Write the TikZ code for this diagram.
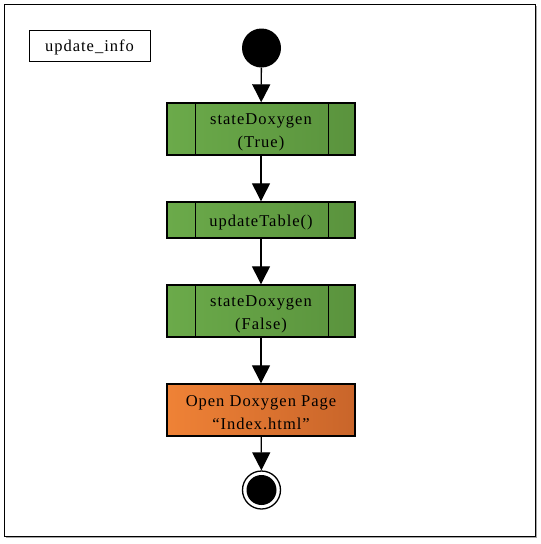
\documentclass[tikz,border=0pt]{standalone}
\usepackage{fontspec}
\setmainfont{Liberation Serif}[LetterSpace=6]
\usetikzlibrary{arrows.meta}
\definecolor{gl}{HTML}{6BAA4A}
\definecolor{gd}{HTML}{5A933D}
\definecolor{ol}{HTML}{EF8236}
\definecolor{od}{HTML}{C9652A}
\tikzset{
  lbl/.style={font=\fontsize{16.5}{23}\selectfont, align=center, inner sep=0pt},
  gbox/.style={draw=black, line width=1.4pt, minimum width=188pt, left color=gl, right color=gd},
  obox/.style={draw=black, line width=1.4pt, minimum width=188pt, left color=ol, right color=od},
  flow/.style={-{Triangle[length=18pt,width=18pt]}, line width=1.3pt},
}
\begin{document}
\begin{tikzpicture}[x=1pt,y=-1pt]
\useasboundingbox (0,0) rectangle (541,544);
\fill[gray!70] (6,6) rectangle (537,538);
\draw[fill=white, line width=1pt] (4,4) rectangle (535,536);
\node[draw, line width=1pt, minimum width=121pt, minimum height=31pt] (title) at (89.5,45.5) {};
\node[lbl] (titletext) at ([yshift=-2pt]title.center) {update\_info};
\node[circle, fill=black, minimum size=39pt, inner sep=0pt] (start) at (261.5,48) {};
\node[gbox, minimum height=52pt] (s1) at (261,129) {};
\node[gbox, minimum height=36pt] (s2) at (261,220) {};
\node[gbox, minimum height=52pt] (s3) at (261,311) {};
\node[obox, minimum height=52pt] (s4) at (261,410) {};
\node[lbl] (t1) at ([yshift=-3pt]s1.center) {stateDoxygen\\(True)};
\node[lbl] (t2) at ([yshift=-3pt]s2.center) {updateTable()};
\node[lbl] (t3) at ([yshift=-3pt]s3.center) {stateDoxygen\\(False)};
\node[lbl] (t4) at ([yshift=-3pt]s4.center) {Open Doxygen Page\\“Index.html”};
\node[circle, draw=black, line width=1.3pt, fill=white, minimum size=38pt, inner sep=0pt] (stop) at (261.5,490) {};
\node[circle, fill=black, minimum size=30pt, inner sep=0pt] (stopin) at (stop.center) {};
\foreach \n in {s1,s2,s3}{
  \draw[line width=1.4pt] ([xshift=29pt]\n.north west) -- ([xshift=29pt]\n.south west);
  \draw[line width=1.4pt] ([xshift=-27pt]\n.north east) -- ([xshift=-27pt]\n.south east);
}
\draw[flow] (start) -- (s1);
\draw[flow] (s1) -- (s2);
\draw[flow] (s2) -- (s3);
\draw[flow] (s3) -- (s4);
\draw[flow] (s4) -- (stop);
\end{tikzpicture}
\end{document}
